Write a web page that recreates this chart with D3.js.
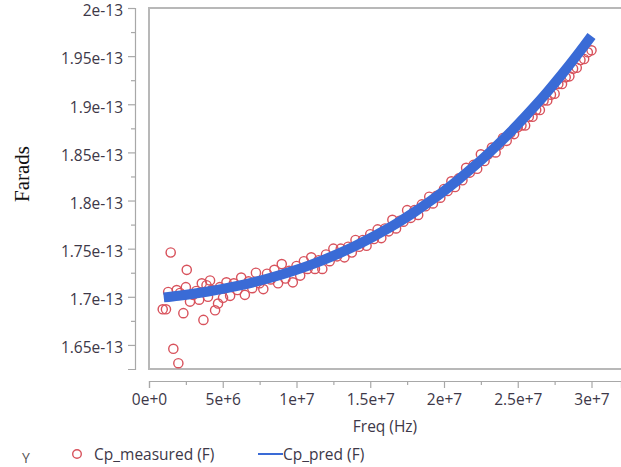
<!DOCTYPE html>
<html>
<head>
<meta charset="utf-8">
<script src="https://cdn.jsdelivr.net/npm/d3@7"></script>
<style>
  html, body { margin: 0; padding: 0; background: #fff; }
  svg { display: block; }
  .tick text { font-family: "Open Sans", "Noto Sans", sans-serif; }
</style>
</head>
<body>
<svg id="chart" width="621" height="467"></svg>
<script>
// Frequency in MHz, capacitance in units of 1e-13 F
const freqMeasured = [
  0.93, 1.15, 1.3, 1.47, 1.65, 1.88, 1.99, 2.1, 2.33, 2.5, 2.56, 2.78, 2.99, 3.2, 3.4,
  3.58, 3.69, 3.9, 4.0, 4.14, 4.26, 4.48, 4.68, 4.8, 5.02,
  5.25, 5.5, 5.75, 6.0, 6.25, 6.5, 6.75, 7.0, 7.25, 7.5, 7.75, 8.0, 8.25, 8.5, 8.75,
  9.0, 9.25, 9.5, 9.75, 10.0, 10.25, 10.5, 10.75, 11.0, 11.25, 11.5, 11.75, 12.0,
  12.25, 12.5, 12.75, 13.0, 13.25, 13.5, 13.75, 14.0, 14.25, 14.5, 14.75, 15.0,
  15.25, 15.5, 15.75, 16.0, 16.25, 16.5, 16.75, 17.0, 17.25, 17.5, 17.75, 18.0,
  18.25, 18.5, 18.75, 19.0, 19.25, 19.5, 19.75, 20.0, 20.25, 20.5, 20.75, 21.0,
  21.25, 21.5, 21.75, 22.0, 22.25, 22.5, 22.75, 23.0, 23.25, 23.5, 23.75, 24.0,
  24.25, 24.5, 24.75, 25.0, 25.25, 25.5, 25.75, 26.0, 26.25, 26.5, 26.75, 27.0,
  27.25, 27.5, 27.75, 28.0, 28.25, 28.5, 28.75, 29.0, 29.25, 29.5, 29.75, 30.0
];
const cpMeasured = [
  1.687, 1.687, 1.705, 1.746, 1.646, 1.707, 1.631, 1.704, 1.683, 1.710, 1.728, 1.695, 1.702, 1.706, 1.697,
  1.714, 1.676, 1.712, 1.700, 1.717, 1.707, 1.686, 1.693, 1.710, 1.699,
  1.715, 1.701, 1.714, 1.707, 1.720, 1.702, 1.716, 1.709, 1.725, 1.714, 1.708, 1.724, 1.718, 1.728, 1.714,
  1.734, 1.719, 1.727, 1.715, 1.732, 1.722, 1.737, 1.729, 1.741, 1.729, 1.738, 1.729, 1.744,
  1.737, 1.750, 1.742, 1.750, 1.741, 1.752, 1.746, 1.759, 1.752, 1.759, 1.753, 1.765,
  1.760, 1.770, 1.761, 1.771, 1.768, 1.780, 1.771, 1.779, 1.778, 1.790, 1.782, 1.790,
  1.785, 1.796, 1.794, 1.804, 1.797, 1.805, 1.803, 1.812, 1.810, 1.820, 1.814, 1.823,
  1.821, 1.834, 1.829, 1.837, 1.833, 1.848, 1.841, 1.848, 1.855, 1.850, 1.858, 1.865,
  1.862, 1.870, 1.869, 1.876, 1.878, 1.878, 1.887, 1.887, 1.894, 1.894, 1.904, 1.904,
  1.910, 1.911, 1.921, 1.921, 1.928, 1.929, 1.937, 1.938, 1.946, 1.947, 1.954, 1.956
];
const freqPred = [1, 2, 3, 4, 5, 6, 7, 8, 9, 10, 11, 12, 13, 14, 15,
  16, 17, 18, 19, 20, 21, 22, 23, 24, 25, 26, 27, 28, 29, 30];
const cpPred = [1.6994, 1.7011, 1.7031, 1.7055, 1.7082, 1.7113, 1.7148, 1.7187, 1.7231, 1.7280,
  1.7334, 1.7394, 1.7459, 1.7530, 1.7608, 1.7692, 1.7783, 1.7881, 1.7987, 1.8100,
  1.8221, 1.8350, 1.8488, 1.8634, 1.8789, 1.8954, 1.9128, 1.9312, 1.9506, 1.9710];

const xTickValues = [0, 5, 10, 15, 20, 25, 30];
const xTickLabels = ["0e+0", "5e+6", "1e+7", "1.5e+7", "2e+7", "2.5e+7", "3e+7"];
const yTickValues = [1.65, 1.7, 1.75, 1.8, 1.85, 1.9, 1.95, 2.0];
const yTickLabels = ["1.65e-13", "1.7e-13", "1.75e-13", "1.8e-13", "1.85e-13", "1.9e-13", "1.95e-13", "2e-13"];

const svg = d3.select("#chart");
const plot = { left: 149, top: 8, right: 621, bottom: 369 };

const x = d3.scaleLinear().domain([0, 32]).range([plot.left, plot.right]);
const y = d3.scaleLinear().domain([1.625, 2.0]).range([plot.bottom, plot.top]);

const axisColor = "#a8a8a8";
const labelColor = "#3d3848";

// Plot frame
svg.append("rect")
  .attr("x", plot.left).attr("y", plot.top)
  .attr("width", plot.right - plot.left + 10).attr("height", plot.bottom - plot.top)
  .attr("fill", "none").attr("stroke", "#b8b8b8").attr("stroke-width", 2);

// Midpoints between major ticks carry the short minor ticks
const mids = v => d3.pairs(v).map(([a, b]) => (a + b) / 2);

// Y axis
const yAxisX = 135;
svg.append("g").attr("class", "y-axis").attr("transform", `translate(${yAxisX},0)`)
  .call(d3.axisLeft(y).tickValues(yTickValues)
    .tickFormat((d, i) => yTickLabels[i]).tickSize(7).tickSizeOuter(7).tickPadding(5));
svg.append("g").attr("transform", `translate(${yAxisX},0)`)
  .call(d3.axisLeft(y).tickValues(mids(yTickValues))
    .tickFormat("").tickSize(4).tickSizeOuter(0))
  .call(g => g.select(".domain").remove());
svg.selectAll(".y-axis .tick text").attr("dy", "0.5em");

// X axis
const xAxisY = 381;
svg.append("g").attr("transform", `translate(0,${xAxisY})`)
  .call(d3.axisBottom(x).tickValues(xTickValues)
    .tickFormat((d, i) => xTickLabels[i]).tickSize(7).tickSizeOuter(7).tickPadding(6));
svg.append("g").attr("transform", `translate(0,${xAxisY})`)
  .call(d3.axisBottom(x).tickValues(mids(xTickValues))
    .tickFormat("").tickSize(4).tickSizeOuter(0))
  .call(g => g.select(".domain").remove());

svg.selectAll(".domain, .tick line").attr("stroke", axisColor).attr("stroke-width", 1.2);
svg.selectAll(".tick text").attr("fill", labelColor).attr("font-size", 15.5);

// Axis titles
svg.append("text")
  .attr("x", 385).attr("y", 432)
  .attr("text-anchor", "middle")
  .attr("font-family", "'Open Sans', 'Noto Sans', sans-serif")
  .attr("font-size", 15.5).attr("fill", labelColor)
  .text("Freq (Hz)");

svg.append("text")
  .attr("transform", "translate(29,174) rotate(-90)")
  .attr("text-anchor", "middle")
  .attr("font-family", "'Liberation Serif', 'DejaVu Serif', serif")
  .attr("font-size", 21).attr("fill", "#111")
  .text("Farads");

// Measured points
svg.append("g")
  .selectAll("circle")
  .data(freqMeasured.map((f, i) => [f, cpMeasured[i]]))
  .join("circle")
  .attr("cx", d => x(d[0]))
  .attr("cy", d => y(d[1]))
  .attr("r", 4.6)
  .attr("fill", "none")
  .attr("stroke", "#d8525c")
  .attr("stroke-width", 1.4);

// Predicted curve
const line = d3.line().x(d => x(d[0])).y(d => y(d[1])).curve(d3.curveMonotoneX);
svg.append("path")
  .datum(freqPred.map((f, i) => [f, cpPred[i]]))
  .attr("d", line)
  .attr("fill", "none")
  .attr("stroke", "#3a6bd6")
  .attr("stroke-width", 10);

// Legend
const legend = svg.append("g").attr("font-family", "'Open Sans', 'Noto Sans', sans-serif")
  .attr("font-size", 15.5).attr("fill", labelColor);
legend.append("text").attr("x", 22).attr("y", 463).attr("font-size", 14).attr("fill", "#555").text("Y");
legend.append("circle").attr("cx", 77).attr("cy", 454).attr("r", 4.3)
  .attr("fill", "none").attr("stroke", "#d8525c").attr("stroke-width", 1.4);
legend.append("text").attr("x", 94).attr("y", 460).text("Cp_measured (F)");
legend.append("line").attr("x1", 258).attr("x2", 283).attr("y1", 454).attr("y2", 454)
  .attr("stroke", "#3a6bd6").attr("stroke-width", 2);
legend.append("text").attr("x", 283).attr("y", 460).text("Cp_pred (F)");
</script>
</body>
</html>
